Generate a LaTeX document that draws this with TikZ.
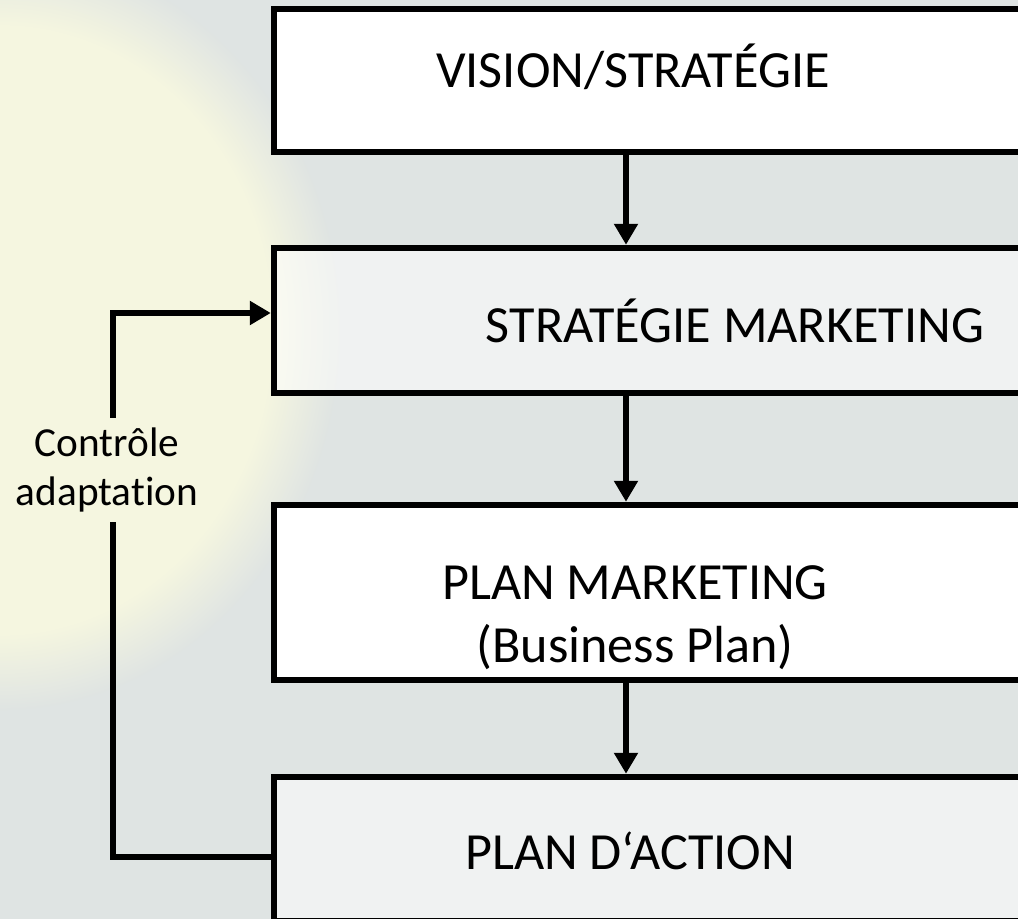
\documentclass[tikz,border=0pt]{standalone}
\usepackage{fontspec}
\setmainfont{Carlito}[Ligatures=NoCommon]
\usetikzlibrary{shapes, arrows.meta, positioning, fadings}

\definecolor{backgrey}{RGB}{223,228,227}
\definecolor{glowyellow}{RGB}{245,246,224}

\begin{document}
\begin{tikzpicture}[x=0.02cm, y=-0.02cm,
    box/.style={draw, line width=0.13cm, inner sep=0pt, minimum width=15.32cm},
    bigtext/.style={font=\fontsize{29.7}{36}\selectfont, anchor=base},
    smalltext/.style={font=\fontsize{23.5}{27.8}\selectfont, align=center, inner sep=0.2cm},
    link/.style={line width=0.13cm},
    tip/.style={-{Triangle[width=0.46cm, length=0.42cm]}}]
    \clip (0,0) rectangle (1018,919);
    % background
    \fill[backgrey] (0,0) rectangle (1018,919);
    \fill[glowyellow, path fading=circle with fuzzy edge 20 percent]
        (0,330) ellipse (340 and 380);
    % boxes
    \node[box, fill=white, minimum height=2.86cm] (vision) at (657,80.5) {};
    \node[box, fill=white, fill opacity=0.55, minimum height=2.9cm] (strat) at (657,320.5) {};
    \node[box, fill=white, minimum height=3.5cm] (plan) at (657,592.5) {};
    \node[box, fill=white, fill opacity=0.55, minimum height=2.88cm] (action) at (657,849) {};
    % texts
    \node[bigtext] (visionT) at (633,88) {VISION/STRATÉGIE};
    \node[bigtext] (stratT) at (735,342) {STRATÉGIE MARKETING};
    \node[bigtext] (planT) at (635,599) {PLAN MARKETING};
    \node[bigtext] (planSub) at (635,662) {(Business Plan)};
    \node[bigtext] (actionT) at (630,869) {PLAN D‘ACTION};
    \node[smalltext] (ctrl) at (107,470) {Contrôle\\adaptation};
    % arrows
    \coordinate (spine) at (626,0);
    \coordinate (loop) at (113,0);
    \draw[link, tip] (vision.south -| spine) -- (strat.north -| spine);
    \draw[link, tip] (strat.south -| spine) -- (plan.north -| spine);
    \draw[link, tip] (plan.south -| spine) -- (action.north -| spine);
    \draw[link] ([yshift=-0.16cm]action.west) -| (ctrl.south -| loop);
    \draw[link, tip] (ctrl.north -| loop) |- ([yshift=0.15cm]strat.west);
\end{tikzpicture}
\end{document}
